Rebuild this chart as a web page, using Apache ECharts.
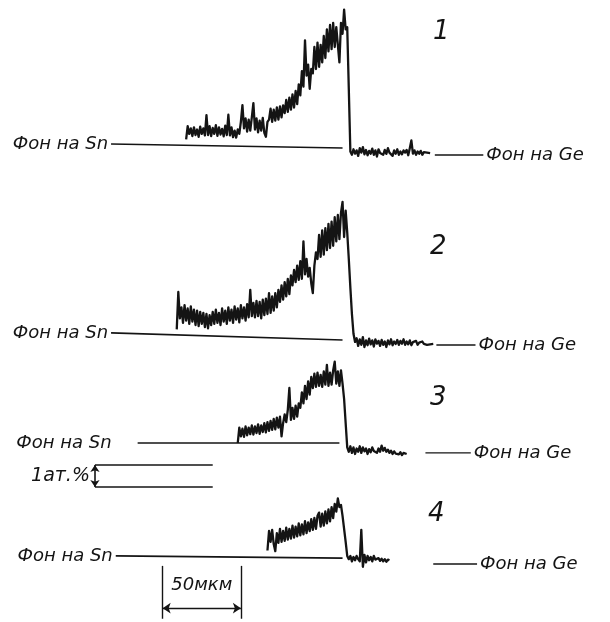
<!DOCTYPE html>
<html>
<head>
<meta charset="utf-8">
<script src="https://cdn.jsdelivr.net/npm/echarts@6/dist/echarts.min.js"></script>
<style>
html,body{margin:0;padding:0;background:#fff}
#chart{width:610px;height:622px}
</style>
</head>
<body>
<div id="chart"></div>
<script>
// x: мкм (шаг записи 1 мкм), y: ат.% Sn над фоном на Sn
var trace1Start = 119;
var trace1 = [
  0.30,0.90,0.55,0.80,0.45,0.85,0.50,0.75,0.42,0.88,0.55,0.80,0.48,1.40,0.50,0.90,0.45,0.82,0.55,0.95,
  0.46,0.85,0.52,0.78,0.44,0.92,0.50,1.42,0.48,0.85,0.40,0.70,0.38,
  0.75,0.55,1.10,1.86,0.80,1.25,0.65,1.20,0.70,1.30,1.95,0.75,1.25,0.62,1.15,0.70,1.28,0.60,0.42,1.10,
  1.20,1.70,1.10,1.65,1.15,1.75,1.20,1.80,1.30,1.85,
  1.50,2.10,1.55,2.20,1.65,2.35,1.75,2.50,1.90,
  2.80,2.30,3.40,2.70,4.80,3.20,3.70,2.60,3.50,3.30,
  4.50,3.50,4.70,3.60,4.60,3.80,5.00,4.00,5.30,
  4.30,5.50,4.40,5.60,4.50,5.40,4.60,3.80,5.60,5.10,6.20,5.30,5.40,2.60,-0.25,
  -0.40,-0.15,-0.35,-0.20,-0.45,-0.10,-0.30,-0.05,-0.38,-0.18,-0.42,-0.22,-0.35,-0.12,-0.40,-0.20,
  -0.48,-0.15,-0.32,-0.25,-0.40,-0.18,-0.36,-0.10,-0.30,-0.22,-0.45,-0.20,-0.35,-0.15,-0.40,-0.25,
  -0.38,-0.20,-0.30,-0.18,-0.42,-0.10,0.25,-0.35,-0.20,-0.40,-0.25,-0.35,-0.22,-0.40,-0.28,-0.36,
  -0.30,-0.38,-0.32
];
var trace2Start = 113;
var trace2 = [
  0.30,2.00,0.80,1.30,0.60,1.40,0.70,1.25,0.55,1.35,0.65,1.20,0.50,1.15,0.45,1.10,0.55,1.05,0.40,1.00,
  0.35,0.95,0.50,1.10,0.55,1.20,0.60,1.05,0.50,1.25,0.65,1.15,0.55,1.30,0.70,1.20,0.60,1.35,0.75,1.25,
  0.62,1.40,0.80,1.30,0.70,1.45,0.85,2.10,0.90,1.50,0.85,1.60,0.90,1.55,0.80,1.65,0.95,1.70,1.00,1.95,
  1.05,1.80,1.15,1.95,1.30,2.10,1.55,2.30,1.65,2.45,1.80,2.60,1.90,2.75,2.30,3.00,2.45,3.20,2.55,3.40,
  2.60,4.30,2.80,3.50,2.70,3.10,2.40,1.95,3.20,3.80,3.50,4.60,3.60,4.80,3.70,4.90,3.90,5.10,4.00,5.20,
  4.10,5.40,4.30,5.50,4.40,5.60,6.10,4.50,5.70,4.70,3.50,2.20,1.00,0.10,
  -0.27,-0.10,-0.45,-0.15,-0.40,-0.05,-0.50,-0.20,-0.42,-0.12,-0.38,-0.20,-0.48,-0.15,-0.35,-0.22,
  -0.45,-0.18,-0.40,-0.25,-0.50,-0.20,-0.38,-0.15,-0.42,-0.25,-0.36,-0.18,-0.40,-0.22,-0.35,-0.15,
  -0.40,-0.25,-0.38,-0.20,-0.42,-0.28,-0.35,-0.22,-0.40,-0.30,-0.38,-0.25,-0.36,-0.30,-0.40,-0.32,
  -0.38,-0.35,-0.36
];
var trace3Start = 152;
var trace3 = [
  0.00,0.70,0.30,0.65,0.28,0.75,0.35,0.70,0.40,0.80,0.38,0.75,0.45,0.85,0.42,0.80,0.50,0.90,0.48,0.95,
  0.55,1.00,0.60,1.10,0.62,1.15,0.70,1.20,0.30,0.90,1.30,0.95,1.50,2.50,1.05,1.60,1.10,1.70,1.20,1.80,
  1.60,2.30,1.80,2.60,2.00,2.80,2.20,3.00,2.50,3.15,2.55,3.20,2.60,3.10,2.55,3.25,2.65,3.55,2.60,3.20,
  2.65,3.30,3.70,2.70,3.25,2.60,3.30,2.70,2.00,0.90,
  -0.20,-0.40,-0.15,-0.45,-0.20,-0.50,-0.25,-0.40,-0.15,-0.45,-0.20,-0.38,-0.25,-0.50,-0.28,-0.42,
  -0.20,-0.36,-0.30,-0.45,-0.25,-0.40,-0.12,-0.35,-0.22,-0.40,-0.30,-0.45,-0.35,-0.50,-0.38,-0.48,
  -0.40,-0.52,-0.42,-0.55,-0.45,-0.52,-0.50
];
var trace4Start = 171;
var trace4 = [
  0.30,1.20,0.70,1.25,0.60,0.27,1.10,0.65,1.30,0.70,1.20,0.75,1.35,0.80,1.30,0.85,1.45,0.90,1.40,0.95,
  1.55,1.00,1.50,1.05,1.65,1.10,1.60,1.20,1.75,1.25,1.80,1.30,1.90,2.05,1.40,2.00,1.45,2.10,1.55,2.20,
  1.65,2.30,1.80,2.45,2.10,2.70,2.30,2.40,1.90,1.30,0.70,0.05,
  -0.10,0.05,-0.20,0.00,-0.15,0.05,-0.10,-0.20,1.25,-0.45,0.10,-0.25,0.05,-0.15,0.00,-0.20,0.05,-0.12,
  -0.20,-0.05,-0.18,-0.08,-0.20,-0.10,-0.22,-0.12,-0.15
];

// фоновые уровни: [мкм, ат.%]
var snBg = [
  [[71, 0.09], [219, -0.09]],
  [[71, 0.14], [219, -0.18]],
  [[88, 0.00], [217, 0.00]],
  [[74, 0.05], [219, -0.05]]
];
var geBg = [
  [[278, -0.41], [309, -0.41]],
  [[279, -0.41], [304, -0.41]],
  [[272, -0.45], [301, -0.45]],
  [[277, -0.32], [305, -0.32]]
];
var traceNames = ['1', '2', '3', '4'];
var scaleAt = [60.7, 136, -1, -2];     // 1 ат.%
var scaleUm = [104, 154];              // 50 мкм

var chart = echarts.init(document.getElementById('chart'), null, {renderer: 'canvas'});

var ink = '#141414';
var font = 'DejaVu Sans';
var grids = [
  {top: 3, height: 165, min: -1, max: 6.5},
  {top: 193, height: 165, min: -1, max: 6.5},
  {top: 355, height: 136.4, min: -2.2, max: 4},
  {top: 492, height: 132, min: -3, max: 3}
];
var starts = [trace1Start, trace2Start, trace3Start, trace4Start];
var traces = [trace1, trace2, trace3, trace4];

function toPoints(start, vals) {
  return vals.map(function (v, i) { return [start + i, v]; });
}

var series = [];
grids.forEach(function (g, k) {
  series.push({
    type: 'line', xAxisIndex: k, yAxisIndex: k, silent: true,
    data: snBg[k], showSymbol: false,
    lineStyle: {color: ink, width: 1.6},
    markPoint: {
      symbol: 'circle', symbolSize: 0, silent: true,
      label: {show: true, position: 'left', distance: k === 2 ? 26 : 3, color: ink,
        fontFamily: font, fontStyle: 'italic', fontSize: 18, formatter: 'Фон на Sn'},
      data: [{coord: snBg[k][0]}]
    }
  });
  series.push({
    type: 'line', xAxisIndex: k, yAxisIndex: k, silent: true,
    data: geBg[k], showSymbol: false,
    lineStyle: {color: ink, width: 1.4},
    endLabel: {show: true, distance: 3, color: ink, fontFamily: font,
      fontStyle: 'italic', fontSize: 18, formatter: 'Фон на Ge'}
  });
  series.push({
    type: 'line', xAxisIndex: k, yAxisIndex: k, silent: true,
    data: toPoints(starts[k], traces[k]), showSymbol: false,
    lineStyle: {color: ink, width: 2.3, join: 'round'}
  });
});

// масштаб 1 ат.%
series.push({
  type: 'line', xAxisIndex: 2, yAxisIndex: 2, silent: true, data: [],
  markLine: {
    silent: true, symbol: ['none', 'none'], label: {show: false},
    lineStyle: {color: ink, width: 1.6, type: 'solid'},
    data: [
      [{coord: [scaleAt[0], scaleAt[2]]}, {coord: [scaleAt[1], scaleAt[2]]}],
      [{coord: [scaleAt[0], scaleAt[3]]}, {coord: [scaleAt[1], scaleAt[3]]}],
      [{coord: [scaleAt[0], scaleAt[2]], symbol: 'arrow', symbolSize: 7},
       {coord: [scaleAt[0], scaleAt[3]], symbol: 'arrow', symbolSize: 7}]
    ]
  },
  markPoint: {
    symbol: 'circle', symbolSize: 0, silent: true,
    label: {show: true, position: 'left', distance: 5, color: ink, fontFamily: font,
      fontStyle: 'italic', fontSize: 19, formatter: '1ат.%'},
    data: [{coord: [scaleAt[0], (scaleAt[2] + scaleAt[3]) / 2]}]
  }
});

// масштаб 50 мкм
series.push({
  type: 'line', xAxisIndex: 3, yAxisIndex: 3, silent: true, data: [],
  markLine: {
    silent: true, symbol: ['none', 'none'], label: {show: false},
    lineStyle: {color: ink, width: 1.4, type: 'solid'},
    data: [
      [{coord: [scaleUm[0], -0.41]}, {coord: [scaleUm[0], -2.85]}],
      [{coord: [scaleUm[1], -0.41]}, {coord: [scaleUm[1], -2.85]}],
      [{coord: [scaleUm[0], -2.36], symbol: 'arrow', symbolSize: 8},
       {coord: [scaleUm[1], -2.36], symbol: 'arrow', symbolSize: 8}]
    ]
  },
  markPoint: {
    symbol: 'circle', symbolSize: 0, silent: true,
    label: {show: true, position: 'inside', color: ink, fontFamily: font,
      fontStyle: 'italic', fontSize: 18, formatter: '50мкм'},
    data: [{coord: [(scaleUm[0] + scaleUm[1]) / 2, -1.3]}]
  }
});

var numPos = [[433, 19], [430, 234], [430, 385], [428, 501]];

chart.setOption({
  backgroundColor: '#fff',
  animation: false,
  grid: grids.map(function (g) {
    return {left: 0, right: 0, top: g.top, height: g.height};
  }),
  xAxis: grids.map(function (g, k) {
    return {type: 'value', gridIndex: k, min: 0, max: 390, show: false};
  }),
  yAxis: grids.map(function (g, k) {
    return {type: 'value', gridIndex: k, min: g.min, max: g.max, show: false};
  }),
  graphic: traceNames.map(function (t, k) {
    return {type: 'text', left: numPos[k][0], top: numPos[k][1], silent: true,
      style: {text: t, fill: ink, font: 'italic 26px "DejaVu Sans"'}};
  }),
  series: series
});
</script>
</body>
</html>
